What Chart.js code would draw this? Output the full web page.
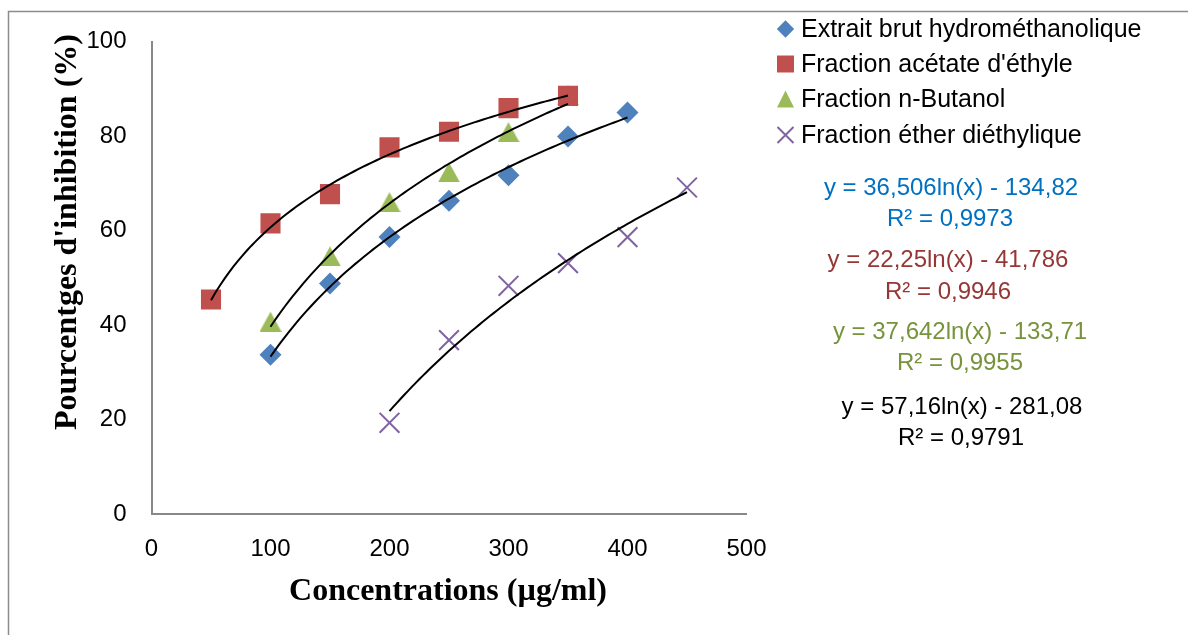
<!DOCTYPE html>
<html>
<head>
<meta charset="utf-8">
<script src="https://cdn.jsdelivr.net/npm/chart.js@4/dist/chart.umd.min.js"></script>
<style>
  html, body { margin: 0; padding: 0; background: #ffffff; }
  canvas { display: block; }
</style>
</head>
<body>
<canvas id="chart" width="1188" height="635"></canvas>
<script>
// Concentrations (µg/ml) and inhibition percentages for each extract
const concExtrait = [100, 150, 200, 250, 300, 350, 400];
const inhibExtrait = [33.7, 48.8, 58.6, 66.3, 71.7, 79.9, 85.0];

const concAcetate = [50, 100, 150, 200, 250, 300, 350];
const inhibAcetate = [45.4, 61.5, 67.7, 77.6, 80.9, 85.9, 88.5];

const concButanol = [100, 150, 200, 250, 300, 350];
const inhibButanol = [40.7, 54.5, 66.0, 72.3, 80.8, 88.6];

const concEther = [200, 250, 300, 350, 400, 450];
const inhibEther = [19.3, 36.8, 48.3, 53.1, 58.6, 69.1];

const seriesNames = [
  "Extrait brut hydrométhanolique",
  "Fraction acétate d'éthyle",
  "Fraction n-Butanol",
  "Fraction éther diéthylique"
];

// Logarithmic trendlines: y = a·ln(x) + b
const trendSlopes = [36.506, 22.25, 37.642, 57.16];
const trendIntercepts = [-134.82, -41.786, -133.71, -281.08];
const trendR2 = [0.9973, 0.9946, 0.9955, 0.9791];

const xTickValues = [0, 100, 200, 300, 400, 500];
const yTickValues = [0, 20, 40, 60, 80, 100];

const xTitle = "Concentrations (µg/ml)";
const yTitle = "Pourcentges d'inhibition (%)";

// ---- styling ----
const markerColors = ["#4F81BD", "#C0504D", "#9BBB59", "#8064A2"];
const equationColors = ["#0070C0", "#953735", "#77933C", "#000000"];

// triangle marker centred on its bounding box
function triangleSprite(w, h, color) {
  const c = document.createElement("canvas");
  c.width = w; c.height = h;
  const g = c.getContext("2d");
  g.fillStyle = color;
  g.beginPath();
  g.moveTo(w / 2, 0); g.lineTo(w, h); g.lineTo(0, h);
  g.closePath(); g.fill();
  return c;
}

const markerStyles = ["rectRot", "rect", triangleSprite(22, 20, markerColors[2]), "crossRot"];
const markerRadii = [11, 14.2, 11, 14];

const concs = [concExtrait, concAcetate, concButanol, concEther];
const inhibs = [inhibExtrait, inhibAcetate, inhibButanol, inhibEther];

const toPoints = (xs, ys) => xs.map((x, i) => ({ x: x, y: ys[i] }));
const frNum = v => String(v).replace('.', ',');

// sample a logarithmic trendline across the span of its series
function trendPoints(k) {
  const xs = concs[k];
  const lo = Math.min(...xs), hi = Math.max(...xs);
  const pts = [];
  const n = 80;
  for (let i = 0; i <= n; i++) {
    const x = lo + (hi - lo) * i / n;
    pts.push({ x: x, y: trendSlopes[k] * Math.log(x) + trendIntercepts[k] });
  }
  return pts;
}

const datasets = [];
for (let k = 0; k < 4; k++) {
  datasets.push({
    label: seriesNames[k],
    data: toPoints(concs[k], inhibs[k]),
    showLine: false,
    pointStyle: markerStyles[k],
    pointRadius: markerRadii[k],
    pointHoverRadius: markerRadii[k],
    pointBackgroundColor: markerColors[k],
    pointBorderColor: markerColors[k],
    pointBorderWidth: k === 3 ? 2 : 0,
    order: 2
  });
}
for (let k = 0; k < 4; k++) {
  datasets.push({
    label: "trend " + k,
    data: trendPoints(k),
    showLine: true,
    borderColor: "#000000",
    borderWidth: 2,
    pointRadius: 0,
    fill: false,
    tension: 0,
    order: 1
  });
}

// small marker drawing for the legend
function drawMarker(ctx, k, color, cx, cy, s) {
  ctx.save();
  ctx.fillStyle = color;
  ctx.strokeStyle = color;
  ctx.beginPath();
  if (k === 0) {
    ctx.moveTo(cx, cy - s); ctx.lineTo(cx + s, cy); ctx.lineTo(cx, cy + s); ctx.lineTo(cx - s, cy);
    ctx.closePath(); ctx.fill();
  } else if (k === 1) {
    ctx.rect(cx - s, cy - s, 2 * s, 2 * s); ctx.fill();
  } else if (k === 2) {
    ctx.moveTo(cx, cy - s); ctx.lineTo(cx + s, cy + s); ctx.lineTo(cx - s, cy + s);
    ctx.closePath(); ctx.fill();
  } else {
    ctx.lineWidth = 2;
    ctx.moveTo(cx - s, cy - s); ctx.lineTo(cx + s, cy + s);
    ctx.moveTo(cx + s, cy - s); ctx.lineTo(cx - s, cy + s);
    ctx.stroke();
  }
  ctx.restore();
}

const decorPlugin = {
  id: "decor",
  beforeDraw(chart) {
    const ctx = chart.ctx;
    ctx.save();
    ctx.fillStyle = "#ffffff";
    ctx.fillRect(0, 0, chart.width, chart.height);
    // outer frame
    ctx.strokeStyle = "#8c8c8c";
    ctx.lineWidth = 1.5;
    ctx.beginPath();
    ctx.moveTo(8.5, chart.height);
    ctx.lineTo(8.5, 11.5);
    ctx.lineTo(chart.width, 11.5);
    ctx.stroke();
    ctx.restore();
  },
  afterDraw(chart) {
    const ctx = chart.ctx;
    ctx.save();
    // axis titles
    ctx.fillStyle = "#000000";
    ctx.font = "bold 32px 'Liberation Serif', 'Times New Roman', serif";
    ctx.textAlign = "center";
    ctx.textBaseline = "alphabetic";
    ctx.fillText(xTitle, 448, 600);
    ctx.save();
    ctx.translate(76, 232);
    ctx.rotate(-Math.PI / 2);
    ctx.fillText(yTitle, 0, 0);
    ctx.restore();

    // legend
    const legendRows = [29, 64, 99, 135];
    const legendMarkerSize = [8.7, 8.5, 8.5, 8];
    ctx.font = "25px 'Liberation Sans', Arial, sans-serif";
    ctx.textAlign = "left";
    ctx.textBaseline = "middle";
    for (let k = 0; k < 4; k++) {
      drawMarker(ctx, k, markerColors[k], 785.5, legendRows[k], legendMarkerSize[k]);
      ctx.fillStyle = "#000000";
      ctx.fillText(seriesNames[k], 801, legendRows[k] + 1);
    }

    // trendline equations
    ctx.font = "24px 'Liberation Sans', Arial, sans-serif";
    const eqPos = [[951, 188, 950, 219], [948, 260, 948, 292], [960, 332, 960, 363], [962, 407, 961, 438]];
    ctx.textAlign = "center";
    for (let k = 0; k < 4; k++) {
      const a = frNum(trendSlopes[k]);
      const b = frNum(Math.abs(trendIntercepts[k]));
      const sign = trendIntercepts[k] < 0 ? "-" : "+";
      ctx.fillStyle = equationColors[k];
      ctx.fillText("y = " + a + "ln(x) " + sign + " " + b, eqPos[k][0], eqPos[k][1]);
      ctx.fillText("R² = " + frNum(trendR2[k]), eqPos[k][2], eqPos[k][3]);
    }
    ctx.restore();
  }
};

const tickFont = { family: "'Liberation Sans', Arial, sans-serif", size: 24 };

new Chart(document.getElementById("chart"), {
  type: "scatter",
  data: { datasets: datasets },
  options: {
    responsive: false,
    animation: false,
    events: [],
    layout: { padding: { left: 0, top: 41.5, right: 441.5, bottom: 0 } },
    plugins: { legend: { display: false }, tooltip: { enabled: false } },
    scales: {
      x: {
        type: "linear",
        min: xTickValues[0],
        max: xTickValues[xTickValues.length - 1],
        afterBuildTicks(scale) { scale.ticks = xTickValues.map(v => ({ value: v })); },
        afterFit(scale) { scale.height = 121; },
        grid: { display: false, drawTicks: false },
        border: { display: true, color: "#888888", width: 2 },
        ticks: { color: "#000000", font: tickFont, padding: 21, maxRotation: 0 }
      },
      y: {
        type: "linear",
        min: yTickValues[0],
        max: yTickValues[yTickValues.length - 1],
        afterBuildTicks(scale) { scale.ticks = yTickValues.map(v => ({ value: v })); },
        afterFit(scale) { scale.width = 151.5; },
        grid: { display: false, drawTicks: false },
        border: { display: true, color: "#888888", width: 2 },
        ticks: { color: "#000000", font: tickFont, padding: 25 }
      }
    }
  },
  plugins: [decorPlugin]
});
</script>
</body>
</html>
